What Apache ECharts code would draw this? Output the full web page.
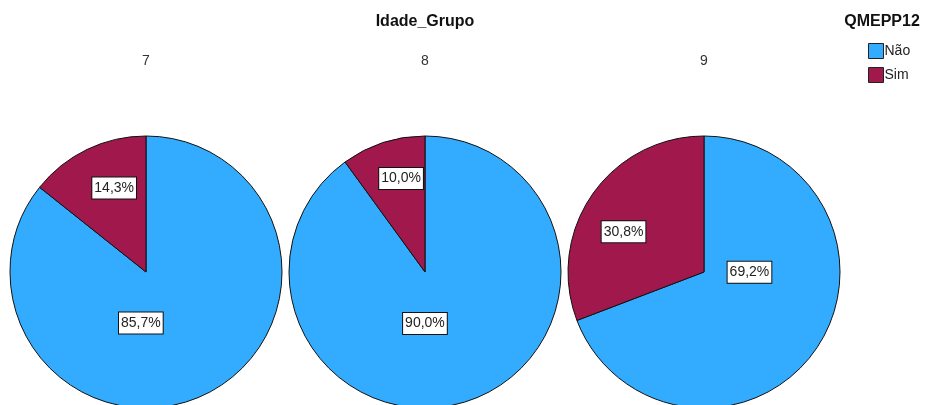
<!DOCTYPE html>
<html>
<head>
<meta charset="utf-8">
<script src="https://cdn.jsdelivr.net/npm/echarts@6/dist/echarts.min.js"></script>
<style>
  html, body { margin: 0; padding: 0; background: #fff; }
  #chart { width: 946px; height: 405px; }
</style>
</head>
<body>
<div id="chart"></div>
<script>
// data
const groups = ['7', '8', '9'];
const categories = ['Não', 'Sim'];
const naoPct = [85.7, 90.0, 69.2];
const simPct = [14.3, 10.0, 30.8];

const colors = ['#33acff', '#a0184c'];
const centersX = [146, 425, 704];
const font = 'Liberation Sans, Arial, sans-serif';
// label nudges (SPSS places labels a bit differently than echarts 'inside')
const labelShift = [
  [[-36, -13], [-1, -20]],
  [[-22, -16], [-2, -26]],
  [[-13, -40], [-22, 0]],
];

const chart = echarts.init(document.getElementById('chart'));

const titles = [
  {
    text: 'Idade_Grupo',
    left: 425,
    top: 14,
    padding: 0,
    textAlign: 'center',
    textStyle: { fontFamily: font, fontSize: 16, fontWeight: 'bold', color: '#111' },
  },
  {
    text: 'QMEPP12',
    left: 882,
    top: 14,
    padding: 0,
    textAlign: 'center',
    textStyle: { fontFamily: font, fontSize: 16, fontWeight: 'bold', color: '#111' },
  },
];
groups.forEach((g, i) => {
  titles.push({
    text: g,
    left: centersX[i],
    top: 54,
    padding: 0,
    textAlign: 'center',
    textStyle: { fontFamily: font, fontSize: 14, fontWeight: 'normal', color: '#333' },
  });
});

const series = groups.map((g, i) => ({
  type: 'pie',
  name: g,
  center: [centersX[i], 272],
  radius: 136,
  startAngle: 90,
  clockwise: true,
  silent: true,
  itemStyle: { borderColor: '#111', borderWidth: 1 },
  label: {
    show: true,
    position: 'inside',
    formatter: (p) => p.value.toFixed(1).replace('.', ',') + '%',
    fontFamily: font,
    fontSize: 14,
    color: '#222',
    backgroundColor: '#fff',
    borderColor: '#111',
    borderWidth: 1,
    padding: [4, 2, 3, 2],
  },
  labelLayout: (p) => ({
    dx: labelShift[i][p.dataIndex][0],
    dy: labelShift[i][p.dataIndex][1],
  }),
  labelLine: { show: false },
  data: [
    { name: categories[0], value: naoPct[i], itemStyle: { color: colors[0] } },
    { name: categories[1], value: simPct[i], itemStyle: { color: colors[1] } },
  ],
}));

const option = {
  animation: false,
  color: colors,
  title: titles,
  legend: {
    orient: 'vertical',
    left: 868,
    top: 43,
    padding: 0,
    itemWidth: 15,
    itemHeight: 15,
    itemGap: 8,
    icon: 'rect',
    itemStyle: { borderColor: '#222', borderWidth: 1 },
    textStyle: { fontFamily: font, fontSize: 14, color: '#222', padding: [0, 0, 0, -4] },
    data: categories,
  },
  series: series,
};

chart.setOption(option);
</script>
</body>
</html>
